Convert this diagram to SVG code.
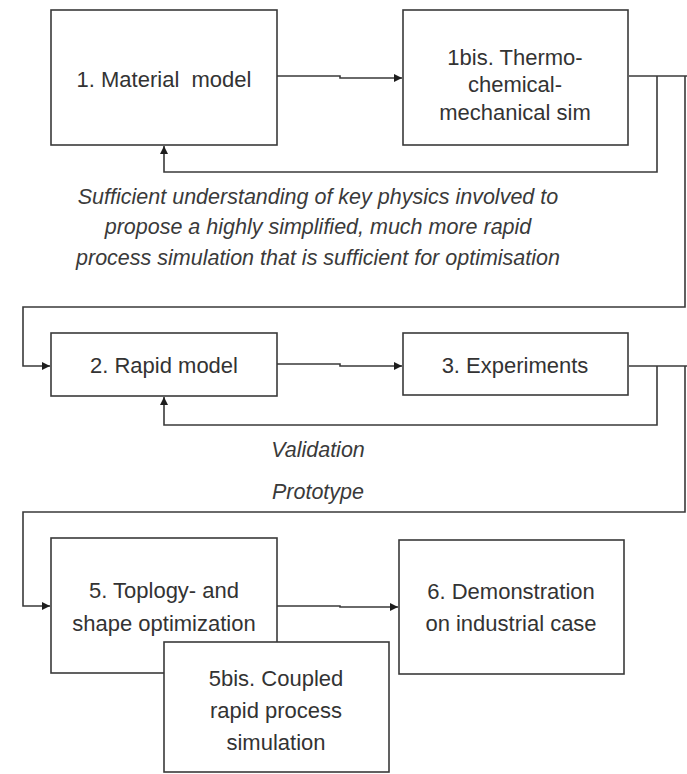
<svg xmlns="http://www.w3.org/2000/svg" width="687" height="774" viewBox="0 0 687 774">
  <style>
    .box { fill: #ffffff; stroke: #3a3a3a; stroke-width: 1.6; }
    .lbl { font-family: "Liberation Sans", Arial, sans-serif; font-size: 22px; fill: #333333; text-anchor: middle; }
    .note { font-family: "Liberation Sans", Arial, sans-serif; font-size: 21.5px; font-style: italic; fill: #3a3a3a; text-anchor: middle; }
    .wire { fill: none; stroke: #3a3a3a; stroke-width: 1.6; }
  </style>
  <defs>
    <marker id="head" viewBox="0 0 10 10" refX="10" refY="5" markerWidth="8" markerHeight="8" markerUnits="userSpaceOnUse" orient="auto">
      <path d="M0,0 L10,5 L0,10 z" fill="#1e1e1e"/>
    </marker>
  </defs>

  <rect width="687" height="774" fill="#ffffff"/>

  <!-- connectors -->
  <g id="connectors">
    <!-- 1 -> 1bis -->
    <path class="wire" d="M277,76 H340 V78 H402" marker-end="url(#head)"/>
    <!-- 1bis out: loop back to 1 and on to 2 -->
    <path class="wire" d="M629,76 H687"/>
    <path class="wire" d="M657,76 V172 H164 V146" marker-end="url(#head)"/>
    <path class="wire" d="M685,76 V307 H23 V366 H50" marker-end="url(#head)"/>
    <!-- 2 -> 3 -->
    <path class="wire" d="M277,364 H340 V366 H402" marker-end="url(#head)"/>
    <!-- 3 out: validation loop back to 2 and prototype on to 5 -->
    <path class="wire" d="M629,366 H687"/>
    <path class="wire" d="M657,366 V425 H164 V397" marker-end="url(#head)"/>
    <path class="wire" d="M685,366 V512 H23 V606 H50" marker-end="url(#head)"/>
    <!-- 5 -> 6 -->
    <path class="wire" d="M277,606 H340 V607 H398" marker-end="url(#head)"/>
  </g>

  <!-- notes on the loops -->
  <text class="note" x="318" y="204">Sufficient understanding of key physics involved to</text>
  <text class="note" x="318" y="234">propose a highly simplified, much more rapid</text>
  <text class="note" x="318" y="265">process simulation that is sufficient for optimisation</text>
  <text class="note" x="318" y="457">Validation</text>
  <text class="note" x="318" y="499">Prototype</text>

  <g id="n1">
    <rect class="box" x="51" y="10" width="226" height="135"/>
    <text class="lbl" x="164" y="87">1. Material&#160; model</text>
  </g>
  <g id="n1bis">
    <rect class="box" x="403" y="10" width="225" height="135"/>
    <text class="lbl" x="515" y="65">1bis. Thermo-</text>
    <text class="lbl" x="515" y="92">chemical-</text>
    <text class="lbl" x="515" y="120">mechanical sim</text>
  </g>
  <g id="n2">
    <rect class="box" x="51" y="333" width="226" height="63"/>
    <text class="lbl" x="164" y="373">2. Rapid model</text>
  </g>
  <g id="n3">
    <rect class="box" x="403" y="333" width="225" height="62"/>
    <text class="lbl" x="515" y="373">3. Experiments</text>
  </g>
  <g id="n5">
    <rect class="box" x="51" y="538" width="226" height="135"/>
    <text class="lbl" x="164" y="598">5. Toplogy- and</text>
    <text class="lbl" x="164" y="631">shape optimization</text>
  </g>
  <g id="n6">
    <rect class="box" x="399" y="540" width="225" height="134"/>
    <text class="lbl" x="511" y="599">6. Demonstration</text>
    <text class="lbl" x="511" y="631">on industrial case</text>
  </g>
  <g id="n5bis">
    <rect class="box" x="164" y="642" width="225" height="130"/>
    <text class="lbl" x="276" y="686">5bis. Coupled</text>
    <text class="lbl" x="276" y="718">rapid process</text>
    <text class="lbl" x="276" y="750">simulation</text>
  </g>
</svg>
